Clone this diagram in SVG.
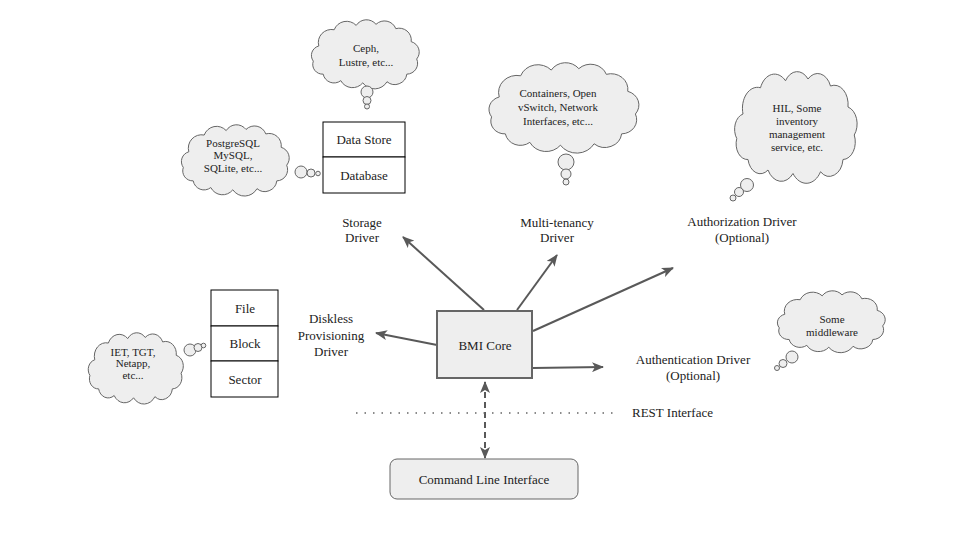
<svg xmlns="http://www.w3.org/2000/svg" xmlns:xlink="http://www.w3.org/1999/xlink" width="960" height="540" viewBox="0 0 960 540" font-family="'Liberation Serif', 'Times New Roman', serif">
<style>
text{font-family:"Liberation Serif","Times New Roman",serif;fill:#222;text-anchor:middle}
.lbl{font-size:13px}
.ct{font-size:11px}
.cloud{fill:#eeeeee;stroke:#666;stroke-width:1}
.bub{fill:#eeeeee;stroke:#666;stroke-width:1}
.stack{fill:#fff;stroke:#000;stroke-width:1}
.conn{stroke:#595959;stroke-width:2;fill:none}
</style>
<defs>
<path id="cloudShape" vector-effect="non-scaling-stroke" d="M8 24 A12 12 0 0 1 22 9 A12 12 0 0 1 42 5 A11 11 0 0 1 60 4 A11 11 0 0 1 78 8 A11 11 0 0 1 92 20 A10 10 0 0 1 97 36 A10 10 0 0 1 88 50 A11 11 0 0 1 70 57 A13 13 0 0 1 48 58 A12 12 0 0 1 28 56 A10 10 0 0 1 12 50 A9 9 0 0 1 3 38 A9 9 0 0 1 8 24 Z"/>
<marker id="ah" viewBox="0 0 12 10" refX="11" refY="5" markerWidth="12" markerHeight="10" markerUnits="userSpaceOnUse" orient="auto-start-reverse">
<path d="M0 0 L12 5 L0 10 L3 5 Z" fill="#595959"/>
</marker>
</defs>
<rect width="960" height="540" fill="#fff"/>

<g id="connectors">
<line class="conn" x1="484" y1="310" x2="403" y2="237" marker-end="url(#ah)"/>
<line class="conn" x1="517" y1="310" x2="557" y2="255" marker-end="url(#ah)"/>
<line class="conn" x1="533" y1="331" x2="673" y2="268" marker-end="url(#ah)"/>
<line class="conn" x1="437" y1="345" x2="376" y2="333" marker-end="url(#ah)"/>
<line class="conn" x1="533" y1="368" x2="603" y2="367" marker-end="url(#ah)"/>
<line class="conn" x1="485" y1="382" x2="485" y2="458" stroke-dasharray="6 4" marker-start="url(#ah)" marker-end="url(#ah)"/>
<line x1="356" y1="413" x2="614" y2="413" stroke="#666" stroke-width="1.5" stroke-dasharray="1.5 7"/>
</g>

<g id="bmi-core">
<rect x="437" y="311" width="95" height="67" fill="#eeeeee" stroke="#666" stroke-width="2"/>
<text class="lbl" x="485" y="350">BMI Core</text>
</g>

<g id="cli">
<rect x="390" y="459" width="188" height="40" rx="7" fill="#eeeeee" stroke="#666" stroke-width="1"/>
<text class="lbl" x="484" y="484">Command Line Interface</text>
</g>

<g id="rest-label">
<text class="lbl" x="632" y="417" style="text-anchor:start">REST Interface</text>
</g>

<g id="storage-driver">
<text class="lbl" x="362" y="227">Storage</text>
<text class="lbl" x="362" y="242">Driver</text>
</g>
<g id="multitenancy-driver">
<text class="lbl" x="557" y="227">Multi-tenancy</text>
<text class="lbl" x="557" y="242">Driver</text>
</g>
<g id="authorization-driver">
<text class="lbl" x="742" y="226">Authorization Driver</text>
<text class="lbl" x="742" y="242">(Optional)</text>
</g>
<g id="diskless-driver">
<text class="lbl" x="331" y="323">Diskless</text>
<text class="lbl" x="331" y="340">Provisioning</text>
<text class="lbl" x="331" y="356">Driver</text>
</g>
<g id="authentication-driver">
<text class="lbl" x="693" y="364">Authentication Driver</text>
<text class="lbl" x="693" y="380">(Optional)</text>
</g>

<g id="data-stack">
<rect class="stack" x="323" y="122" width="82" height="35"/>
<rect class="stack" x="323" y="157" width="82" height="36"/>
<text class="lbl" x="364" y="144">Data Store</text>
<text class="lbl" x="364" y="180">Database</text>
</g>

<g id="disk-stack">
<rect class="stack" x="211" y="290" width="67" height="36"/>
<rect class="stack" x="211" y="326" width="67" height="35"/>
<rect class="stack" x="211" y="361" width="67" height="36"/>
<text class="lbl" x="245" y="313">File</text>
<text class="lbl" x="245" y="348">Block</text>
<text class="lbl" x="245" y="384">Sector</text>
</g>

<g id="cloud-ceph">
<use xlink:href="#cloudShape" class="cloud" transform="translate(310,20) scale(1.1,1.083)"/>
<circle class="bub" cx="367" cy="92" r="6"/>
<circle class="bub" cx="367" cy="100.5" r="4"/>
<circle class="bub" cx="367" cy="106.5" r="2.5"/>
<text class="ct" x="366" y="52">Ceph,</text>
<text class="ct" x="366" y="66">Lustre, etc...</text>
</g>

<g id="cloud-db">
<use xlink:href="#cloudShape" class="cloud" transform="translate(180,125) scale(1.1,1.117)"/>
<circle class="bub" cx="301" cy="172" r="6"/>
<circle class="bub" cx="311" cy="173" r="4"/>
<circle class="bub" cx="318" cy="173.5" r="2.3"/>
<text class="ct" x="233" y="147">PostgreSQL</text>
<text class="ct" x="233" y="159">MySQL,</text>
<text class="ct" x="233" y="172">SQLite, etc...</text>
</g>

<g id="cloud-containers">
<use xlink:href="#cloudShape" class="cloud" transform="translate(487,63) scale(1.53,1.417)"/>
<circle class="bub" cx="566" cy="162" r="8"/>
<circle class="bub" cx="566" cy="174" r="5"/>
<circle class="bub" cx="566" cy="182" r="3"/>
<text class="ct" x="558" y="97">Containers, Open</text>
<text class="ct" x="558" y="111">vSwitch, Network</text>
<text class="ct" x="558" y="125">Interfaces, etc...</text>
</g>

<g id="cloud-hil">
<use xlink:href="#cloudShape" class="cloud" transform="translate(733,72) scale(1.25,1.75)"/>
<circle class="bub" cx="747" cy="185" r="6.5"/>
<circle class="bub" cx="739" cy="192" r="4.5"/>
<circle class="bub" cx="733" cy="198" r="3"/>
<text class="ct" x="797" y="112">HIL, Some</text>
<text class="ct" x="797" y="125">inventory</text>
<text class="ct" x="797" y="138">management</text>
<text class="ct" x="797" y="151">service, etc.</text>
</g>

<g id="cloud-middleware">
<use xlink:href="#cloudShape" class="cloud" transform="translate(776,291) scale(1.1,0.97)"/>
<circle class="bub" cx="792" cy="357" r="6"/>
<circle class="bub" cx="783" cy="363.5" r="4"/>
<circle class="bub" cx="777" cy="368" r="2.5"/>
<text class="ct" x="832" y="323">Some</text>
<text class="ct" x="832" y="336">middleware</text>
</g>

<g id="cloud-iet">
<use xlink:href="#cloudShape" class="cloud" transform="translate(87,333) scale(0.97,1.117)"/>
<circle class="bub" cx="190" cy="350" r="6"/>
<circle class="bub" cx="198" cy="347.5" r="4"/>
<circle class="bub" cx="203.5" cy="345.5" r="2.3"/>
<text class="ct" x="133" y="356">IET, TGT,</text>
<text class="ct" x="133" y="367">Netapp,</text>
<text class="ct" x="133" y="379">etc...</text>
</g>
</svg>
